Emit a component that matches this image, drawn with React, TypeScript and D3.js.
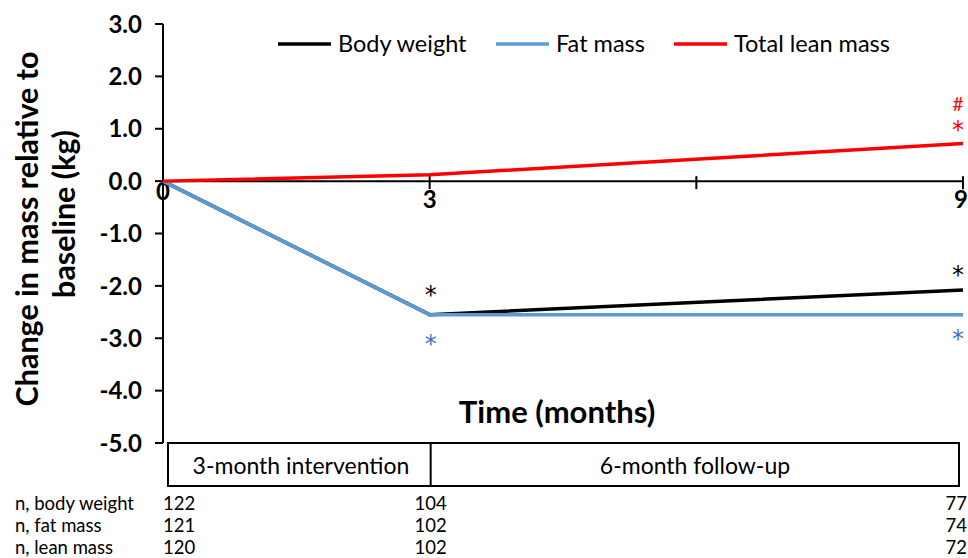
import React from "react";
import * as d3 from "d3";

const months = [0, 3, 9];
const bodyWeight = [0, -2.55, -2.08];
const fatMass = [0, -2.55, -2.55];
const leanMass = [0, 0.12, 0.72];

const yTicks = [3, 2, 1, 0, -1, -2, -3, -4, -5];
const xTicks = [0, 3, 6, 9];
const xTickLabels = ["0", "3", "", "9"];

const legendNames = ["Body weight", "Fat mass", "Total lean mass"];
const seriesColors = ["#000000", "#5B9BD5", "#FF0000"];

const phaseLabels = ["3-month intervention", "6-month follow-up"];

const nRowLabels = ["n, body weight", "n, fat mass", "n, lean mass"];
const nBody = [122, 104, 77];
const nFat = [121, 102, 74];
const nLean = [120, 102, 72];

// significance markers: month, value (glyph centre), symbol, series index
const markerMonths = [3, 3, 9, 9, 9, 9];
const markerValues = [-2.1, -3.05, -1.72, -2.95, 1.05, 1.47];
const markerSymbols = ["*", "*", "*", "*", "*", "#"];
const markerSeries = [0, 1, 0, 1, 2, 2];

const FONT = "Lato, 'Open Sans', sans-serif";

export default function App() {
  const W = 968;
  const H = 558;
  const x = d3.scaleLinear().domain([0, 9]).range([163, 963]);
  const y = d3.scaleLinear().domain([3, -5]).range([24, 443]);
  const line = d3
    .line<number>()
    .x((_, i) => x(months[i]))
    .y((d) => y(d));

  const series = [bodyWeight, fatMass, leanMass];
  const nRows = [nBody, nFat, nLean];
  const nAnchors = ["start", "middle", "end"];
  const nX = [x(0), x(3) + 1, 967];
  const rowY = [510, 532, 554];

  const legendX = [278, 496, 674];

  return (
    <svg
      width={W}
      height={H}
      style={{ position: "absolute", left: 0, top: 0, background: "#fff" }}
      fontFamily={FONT}
    >
      {/* Y axis title */}
      <g fontWeight="bold" fontSize={30.5} textAnchor="middle">
        <text transform={`translate(38,229) rotate(-90)`}>Change in mass relative to</text>
        <text transform={`translate(75,214) rotate(-90)`}>baseline (kg)</text>
      </g>

      {/* Y axis */}
      <line x1={x(0)} x2={x(0)} y1={y(3)} y2={y(-5)} stroke="#000" strokeWidth={2} />
      {yTicks.map((t) => (
        <g key={t}>
          <line x1={x(0) - 8} x2={x(0)} y1={y(t)} y2={y(t)} stroke="#000" strokeWidth={2} />
          <text
            x={142}
            y={y(t)}
            dy="0.36em"
            textAnchor="end"
            fontWeight="bold"
            fontSize={24}
          >
            {t.toFixed(1)}
          </text>
        </g>
      ))}

      {/* X axis */}
      <line x1={x(0)} x2={x(9)} y1={y(0)} y2={y(0)} stroke="#000" strokeWidth={2} />
      {xTicks.map((t) =>
        t === 0 ? null : (
          <line key={t} x1={x(t)} x2={x(t)} y1={y(0) - 5} y2={y(0) + 8} stroke="#000" strokeWidth={2} />
        )
      )}
      {xTicks.map((t, i) =>
        xTickLabels[i] ? (
          <text
            key={"l" + t}
            x={t === 9 ? x(t) - 2 : x(t)}
            y={t === 0 ? 200 : 208}
            textAnchor="middle"
            fontWeight="bold"
            fontSize={24}
          >
            {xTickLabels[i]}
          </text>
        ) : null
      )}

      {/* Data lines */}
      {series.map((s, i) => (
        <path key={i} d={line(s) || ""} fill="none" stroke={seriesColors[i]} strokeWidth={3.5} strokeLinejoin="round" />
      ))}

      {/* significance markers */}
      {markerValues.map((v, i) => {
        const sym = markerSymbols[i];
        const isHash = sym === "#";
        const fs = isHash ? 19 : 24;
        const off = isHash ? 0.36 * fs : 0.48 * fs;
        const cx = markerMonths[i] === 9 ? x(9) - 5 : x(markerMonths[i]) + 1;
        const c = seriesColors[markerSeries[i]];
        return (
          <text
            key={"m" + i}
            x={cx}
            y={y(v) + off}
            textAnchor="middle"
            fontSize={fs}
            fontFamily={isHash ? FONT : "'DejaVu Sans', sans-serif"}
            fill={c === "#5B9BD5" ? "#4472C4" : c}
          >
            {sym}
          </text>
        );
      })}

      {/* Legend */}
      {legendNames.map((n, i) => (
        <g key={n}>
          <line x1={legendX[i]} x2={legendX[i] + 53} y1={44} y2={44} stroke={seriesColors[i]} strokeWidth={3.5} />
          <text x={legendX[i] + 60} y={44} dy="0.35em" fontSize={23.5}>
            {n}
          </text>
        </g>
      ))}

      {/* X axis title */}
      <text x={557} y={423} textAnchor="middle" fontWeight="bold" fontSize={31}>
        Time (months)
      </text>

      {/* Phase box */}
      <rect x={168} y={443} width={959 - 168} height={43} fill="none" stroke="#000" strokeWidth={2} />
      <line x1={x(3) + 1} x2={x(3) + 1} y1={443} y2={486} stroke="#000" strokeWidth={2} />
      {phaseLabels.map((p, i) => (
        <text
          key={p}
          x={i === 0 ? 301 : 695}
          y={474}
          textAnchor="middle"
          fontSize={23}
        >
          {p}
        </text>
      ))}

      {/* n table */}
      {nRowLabels.map((lab, r) => (
        <g key={lab} fontSize={18.5}>
          <text x={15} y={rowY[r]}>
            {lab}
          </text>
          {nRows[r].map((v, c) => (
            <text key={c} x={nX[c]} y={rowY[r]} textAnchor={nAnchors[c] as any}>
              {v}
            </text>
          ))}
        </g>
      ))}
    </svg>
  );
}
